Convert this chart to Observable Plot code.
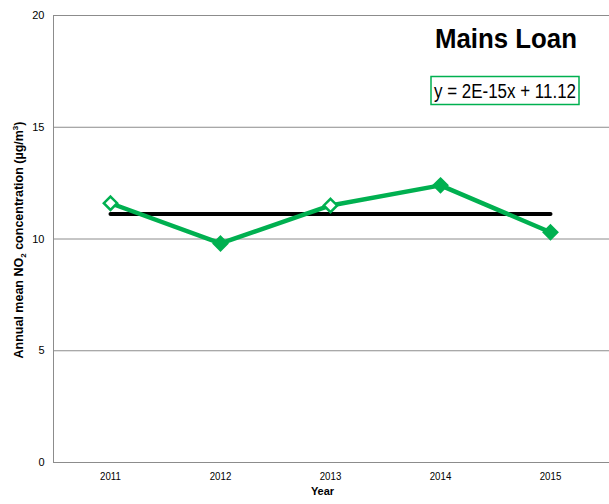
<!DOCTYPE html>
<html><head><meta charset="utf-8">
<script src="https://cdn.jsdelivr.net/npm/d3@7"></script>
<script src="https://cdn.jsdelivr.net/npm/@observablehq/plot@0.6"></script>
<style>
html,body{margin:0;padding:0;background:#fff;}
</style></head>
<body><div id="chart"></div>
<script>
const years = ["2011", "2012", "2013", "2014", "2015"];
const values = [11.6, 9.8, 11.5, 12.4, 10.3];
const hollow = [true, false, true, false, false];
const trendValue = 11.12;
const yTicks = [0, 5, 10, 15, 20];
const title = "Mains Loan";
const equation = "y = 2E-15x + 11.12";

const data = years.map((y, i) => ({year: y, value: values[i], hollow: hollow[i]}));
const trend = years.map(y => ({year: y, value: trendValue}));
const green = "#00B050";
const font = "'Liberation Sans', Arial, sans-serif";

const chart = Plot.plot({
  width: 609, height: 504,
  marginLeft: 53, marginRight: 0, marginTop: 15, marginBottom: 42,
  style: {fontFamily: font, fontSize: "11px", color: "#000", background: "#fff", overflow: "visible"},
  x: {type: "point", domain: years, padding: 0.5, range: [53, 607], label: null},
  y: {domain: [0, 20], ticks: yTicks, label: null},
  marks: [
    Plot.gridY(yTicks, {stroke: "#8c8c8c", strokeOpacity: 1, strokeWidth: 1}),
    Plot.frame({anchor: "left", stroke: "#8c8c8c"}),
    Plot.axisY({ticks: yTicks, tickSize: 0, tickPadding: 9, fontSize: 11}),
    Plot.axisX({tickSize: 0, tickPadding: 10, fontSize: 11}),
    Plot.line(trend, {x: "year", y: "value", stroke: "#000", strokeWidth: 4}),
    Plot.line(data, {x: "year", y: "value", stroke: green, strokeWidth: 4.5}),
    Plot.dot(data, {x: "year", y: "value", symbol: "diamond2", r: 6, stroke: green, strokeWidth: 2.5,
      fill: d => d.hollow ? "#fff" : green}),
    Plot.text(["Year"], {frameAnchor: "bottom", dx: -9, dy: 32, fontWeight: "bold", fontSize: 11, fill: "#000"})
  ]
});
document.getElementById("chart").appendChild(chart);

const svg = d3.select(chart);
// condense tick labels slightly to mimic the narrow font
svg.selectAll("g[aria-label='x-axis tick label'] text").each(function() {
  const w = this.getComputedTextLength();
  d3.select(this).attr("textLength", w * 0.88).attr("lengthAdjust", "spacingAndGlyphs");
});
// chart title
svg.append("text")
  .attr("x", 506).attr("y", 48)
  .attr("text-anchor", "middle")
  .attr("font-family", font).attr("font-weight", "bold").attr("font-size", 28).attr("fill", "#000")
  .attr("textLength", 142).attr("lengthAdjust", "spacingAndGlyphs")
  .text(title);
// y-axis title
svg.append("text")
  .attr("transform", "translate(23,240) rotate(-90)")
  .attr("text-anchor", "middle")
  .attr("font-family", font)
  .attr("font-weight", "bold").attr("font-size", 12.5).attr("fill", "#000")
  .call(t => {
    t.append("tspan").text("Annual mean NO");
    t.append("tspan").attr("font-size", 8).attr("dy", 3).text("2");
    t.append("tspan").attr("dy", -3).text(" concentration (µg/m");
    t.append("tspan").attr("font-size", 8).attr("dy", -5).text("3");
    t.append("tspan").attr("dy", 5).text(")");
  });
// equation box
svg.append("rect")
  .attr("x", 431).attr("y", 76.5).attr("width", 148).attr("height", 28)
  .attr("fill", "#fff").attr("stroke", green).attr("stroke-width", 1.5);
svg.append("text")
  .attr("x", 505).attr("y", 98)
  .attr("text-anchor", "middle")
  .attr("font-family", font).attr("font-size", 20).attr("fill", "#000")
  .attr("textLength", 142).attr("lengthAdjust", "spacingAndGlyphs")
  .text(equation);
</script>
</body></html>
